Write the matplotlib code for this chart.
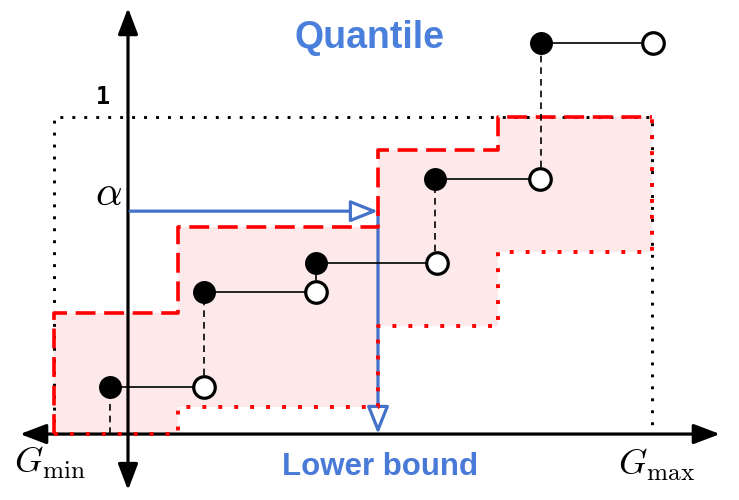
import matplotlib
matplotlib.use("Agg")
import matplotlib.pyplot as plt
from matplotlib.patches import FancyArrowPatch

plt.rcParams['mathtext.fontset'] = 'cm'

# ---- data ----
jump_x = [-0.18, 0.76, 1.88, 3.07, 4.13]          # filled points (jumps of the CDF)
end_x = [0.76, 1.88, 3.09, 4.12, 5.25]            # open points (end of each step)
levels = [0.148, 0.448, 0.539, 0.804, 1.233]      # step levels
band_x = [-0.74, 0.50, 2.50, 3.70, 5.24]          # band breakpoints
upper = [0.382, 0.653, 0.896, 1.0]                # upper band (dashed)
lower = [0.0, 0.085, 0.341, 0.574]                # lower band (dotted)
alpha_level = 0.703
quantile_x = 2.50
g_min, g_max = -0.74, 5.24

fig = plt.figure(figsize=(7.39, 5.00), dpi=100)
ax = fig.add_axes([0, 0, 1, 1])
ax.set_xlim(-1.28, 6.11)
ax.set_ylim(-0.208, 1.369)
ax.axis('off')

blue = '#4472c8'
red = '#ff0000'

# pink band
ax.fill_between(band_x, lower + [lower[-1]], upper + [upper[-1]], step='post',
                color='#fde9ea', lw=0, zorder=1)

# black dotted box
ax.plot([g_min, g_min, g_max, g_max], [0, 1, 1, 0], color='black', lw=2.1,
        linestyle=(0, (1, 3.1)), zorder=2)

# axes arrows
ax.add_patch(FancyArrowPatch((-1.08, 0), (5.92, 0), arrowstyle='<|-|>,head_length=1.0,head_width=0.38',
                             mutation_scale=16, color='black', lw=2.3, shrinkA=0, shrinkB=0, zorder=3))
ax.add_patch(FancyArrowPatch((0, -0.177), (0, 1.344), arrowstyle='<|-|>,head_length=1.0,head_width=0.38',
                             mutation_scale=16, color='black', lw=2.3, shrinkA=0, shrinkB=0, zorder=3))

# upper band (dashed)
ux = [band_x[0]]
uy = [0]
for i, v in enumerate(upper):
    ux += [band_x[i], band_x[i + 1]]
    uy += [v, v]
ax.plot(ux, uy, color=red, lw=2.6, linestyle=(0, (5.5, 2.4)), zorder=4)

# lower band (dotted)
lx = []
ly = []
for i, v in enumerate(lower):
    lx += [band_x[i], band_x[i + 1]]
    ly += [v, v]
lx += [band_x[-1]]
ly += [upper[-1]]
ax.plot(lx, ly, color=red, lw=2.8, linestyle=(0, (1, 3.1)), zorder=4)

# blue arrows
ax.add_patch(FancyArrowPatch((0.02, alpha_level), (quantile_x, alpha_level),
                             arrowstyle='-|>,head_length=1.05,head_width=0.42', mutation_scale=16,
                             facecolor='white', edgecolor=blue, lw=2.3, shrinkA=0, shrinkB=0, zorder=5))
ax.add_patch(FancyArrowPatch((quantile_x, alpha_level), (quantile_x, 0.0),
                             arrowstyle='-|>,head_length=1.05,head_width=0.42', mutation_scale=16,
                             facecolor='white', edgecolor=blue, lw=2.3, shrinkA=0, shrinkB=0, zorder=3.5))

# empirical CDF steps
prev = 0.0
for xj, xe, lv in zip(jump_x, end_x, levels):
    ax.plot([xj, xj], [prev, lv], color='black', lw=1.2, linestyle=(0, (4, 3)), zorder=6)
    ax.plot([xj, xe], [lv, lv], color='black', lw=1.2, zorder=6)
    prev = lv
ax.plot(jump_x, levels, 'o', ms=15.5, color='black', zorder=7)
ax.plot(end_x, levels, 'o', ms=15.5, mfc='white', mec='black', mew=2.3, zorder=7)

# texts
ax.text(-0.245, 1.041, '1', family='DejaVu Sans Mono', fontweight='bold', fontsize=17,
        ha='center', va='baseline')
ax.text(-0.06, 0.724, r'$\alpha$', fontsize=30, ha='right', va='baseline')
ax.text(g_min - 0.035, -0.123, r'$G_{\min}$', fontsize=26, ha='center', va='baseline')
ax.text(g_max + 0.05, -0.129, r'$G_{\max}$', fontsize=26, ha='center', va='baseline')
ax.text(2.41, 1.25, 'Quantile', family='Liberation Sans', fontweight='bold', fontsize=27,
        color='#4a80dc', ha='center', va='center')
ax.text(2.52, -0.105, 'Lower bound', family='Liberation Sans', fontweight='bold', fontsize=22.5,
        color='#4a7ad8', ha='center', va='center')

fig.savefig('out.png', dpi=100)
